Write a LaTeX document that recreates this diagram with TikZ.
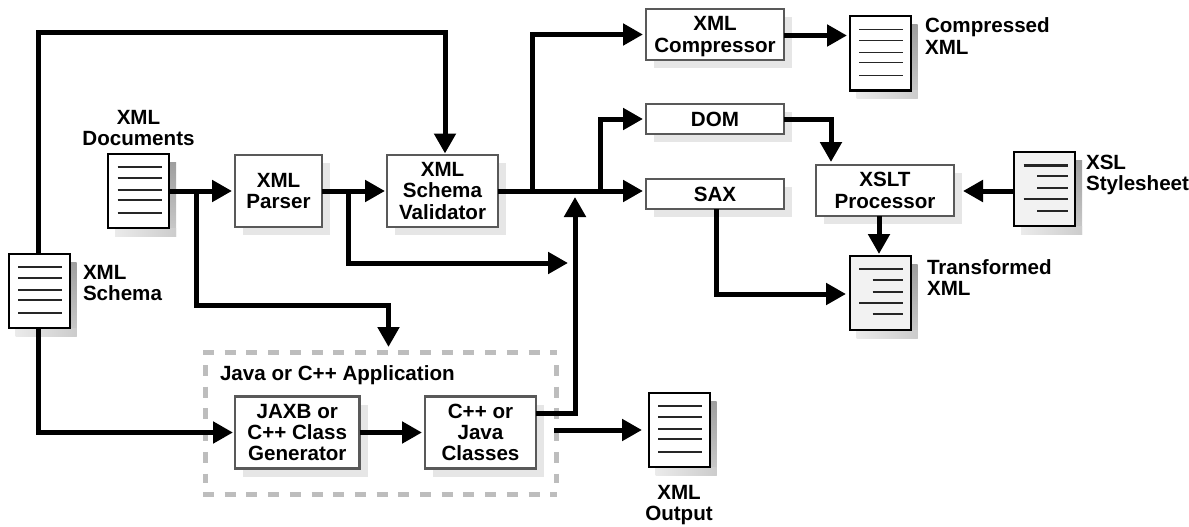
\documentclass[tikz,border=0pt]{standalone}
\usepackage{fontspec}
\setmainfont{Liberation Sans}
\usetikzlibrary{arrows.meta,calc}
\definecolor{boxgray}{HTML}{595959}
\definecolor{shadowlight}{HTML}{E6E6E6}
\definecolor{dashgray}{HTML}{BDBDBD}
\definecolor{pagetint}{HTML}{F2F2F2}
\tikzset{
  every node/.style={font=\bfseries\fontsize{20.6}{21.3}\selectfont,inner sep=0pt,outer sep=0pt},
  flow/.style={line width=5pt,draw=black,-{Triangle[length=20pt,width=21pt]}},
  trunk/.style={line width=5pt,draw=black},
  procbox/.style={draw=boxgray,line width=2.6pt,fill=white,align=center,minimum width=#1,minimum height=72pt},
  lowbox/.style={draw=boxgray,line width=2.6pt,fill=white,align=center,minimum width=#1,minimum height=30pt},
  midbox/.style={draw=boxgray,line width=2.6pt,fill=white,align=center,minimum width=#1,minimum height=51pt},
  docbox/.style={draw=black,line width=2pt,fill=#1,minimum width=61pt,minimum height=74pt},
  docbox/.default=white,
  docrule/.style={draw=black!85,line width=1.2pt},
  label/.style={align=left,anchor=west},
  clabel/.style={align=center},
  framedash/.style={dashgray,line width=5pt,dash pattern=on 11pt off 10.7pt},
}
\newcommand{\nodepth}[1]{\raisebox{0pt}[\height][0pt]{#1}}
\newcommand{\boxshadow}[1]{%
  \fill[shadowlight] ($(#1.north east)+(0,8)$) rectangle ($(#1.south east)+(8,8)$);
  \fill[shadowlight] ($(#1.south west)+(8,0)$) rectangle ($(#1.south east)+(8,8)$);}
\newcommand{\docshadow}[1]{%
  \shade[top color=black!38,bottom color=black!20] ($(#1.north east)+(0,8)$) rectangle ($(#1.south east)+(7,8)$);
  \shade[left color=black!8,right color=black!20] ($(#1.south west)+(7,0)$) rectangle ($(#1.south east)+(7,8)$);}
\newcommand{\ruleat}[4]{\draw[docrule,#4] ($(#1.north west)+(#2,#3)$) -- ($(#1.north west)+(53.5,#3)$);}
\newcommand{\plainrules}[1]{%
  \ruleat{#1}{9.5}{13}{}\ruleat{#1}{9.5}{24}{}\ruleat{#1}{9.5}{36}{}\ruleat{#1}{9.5}{46}{}\ruleat{#1}{9.5}{59}{}}
\newcommand{\codedrules}[1]{%
  \ruleat{#1}{9.5}{13}{}\ruleat{#1}{23}{24}{}\ruleat{#1}{23}{36}{}\ruleat{#1}{9.5}{47}{}\ruleat{#1}{23}{58}{}}
\begin{document}
\begin{tikzpicture}[x=1pt,y=-1pt]
\useasboundingbox (0,0) rectangle (1189,527);

% application frame
\coordinate (ftl) at (203,352);
\coordinate (ftr) at (557,352);
\coordinate (fbl) at (203,494);
\coordinate (fbr) at (557,494);
\coordinate (fla) at (205,365);
\coordinate (flb) at (205,483);
\coordinate (fra) at (556,365);
\coordinate (frb) at (556,483);
\draw[framedash] (ftl) -- (ftr);
\draw[framedash] (fbl) -- (fbr);
\draw[framedash] (fla) -- (flb);
\draw[framedash] (fra) -- (frb);
\node[anchor=west] (applabel) at (220,375) {Java or C++ Application};

% documents
\node[docbox,draw=none,fill=none] (docs) at (138.5,191) {};
\node[docbox,draw=none,fill=none] (schema) at (39,291) {};
\node[docbox,draw=none,fill=none] (compressed) at (880,53.5) {};
\node[docbox,draw=none,fill=none] (xsl) at (1044.5,189) {};
\node[docbox,draw=none,fill=none] (transformed) at (880,293) {};
\node[docbox,draw=none,fill=none] (output) at (679,430) {};
\docshadow{docs}\docshadow{schema}\docshadow{compressed}\docshadow{xsl}\docshadow{transformed}\docshadow{output}
\node[docbox] at (docs) {};
\node[docbox] at (schema) {};
\node[docbox] at (compressed) {};
\node[docbox=pagetint] at (xsl) {};
\node[docbox=pagetint] at (transformed) {};
\node[docbox] at (output) {};
\plainrules{docs}\plainrules{schema}\plainrules{compressed}\plainrules{output}
\codedrules{transformed}
\ruleat{xsl}{9.5}{13}{line width=3pt}\ruleat{xsl}{23}{24}{}\ruleat{xsl}{23}{36}{}\ruleat{xsl}{9.5}{47}{}\ruleat{xsl}{23}{59}{}

% process boxes
\node[procbox=87pt,draw=none,fill=none] (parser) at (278.5,191) {};
\node[procbox=111pt,draw=none,fill=none] (validator) at (442.5,191) {};
\node[midbox=138pt,draw=none,fill=none] (compressor) at (715,34.5) {};
\node[lowbox=138pt,draw=none,fill=none] (dom) at (715,119) {};
\node[lowbox=138pt,draw=none,fill=none] (sax) at (715,194) {};
\node[midbox=138pt,draw=none,fill=none] (xslt) at (885,190.5) {};
\node[procbox=124.5pt,draw=none,fill=none] (jaxb) at (297.25,432.5) {};
\node[procbox=111pt,draw=none,fill=none] (classes) at (480.5,432.5) {};
\boxshadow{parser}\boxshadow{validator}\boxshadow{compressor}\boxshadow{dom}\boxshadow{sax}\boxshadow{xslt}\boxshadow{jaxb}\boxshadow{classes}
\node[procbox=87pt] at (parser) {XML\\Parser};
\node[procbox=111pt] at (validator) {XML\\Schema\\Validator};
\node[midbox=138pt] at (compressor) {XML\\\nodepth{Compressor}};
\node[lowbox=138pt] at (dom) {DOM};
\node[lowbox=138pt] at (sax) {SAX};
\node[midbox=138pt] at (xslt) {XSLT\\Processor};
\node[procbox=124.5pt] at (jaxb) {JAXB or\\C++ Class\\Generator};
\node[procbox=111pt] at (classes) {C++ or\\Java\\Classes};

% labels
\node[clabel] (docslabel) at (138.5,128) {XML\\Documents};
\node[label] (schemalabel) at (83,283) {XML\\Schema};
\node[label] (compressedlabel) at (925,36) {Compressed\\XML};
\node[label] (xsllabel) at (1086,172.5) {XSL\\\nodepth{Stylesheet}};
\node[label] (transformedlabel) at (927,277.5) {Transformed\\XML};
\node[clabel] (outputlabel) at (679,503) {XML\\\nodepth{Output}};

% junctions and free ends
\coordinate (topleft) at (38,33);
\coordinate (topright) at (445,33);
\coordinate (docbranch) at (196,191);
\coordinate (parserbranch) at (348,191);
\coordinate (compbranch) at (532,191);
\coordinate (dombranch) at (600,191);
\coordinate (mergeleft) at (568,263);
\coordinate (mergeup) at (575,197);
\coordinate (frameout) at (554,430);

% connectors
\draw[flow] (schema.north -| topleft) -- (topleft) -- (topright) -- ([yshift=1.5pt]validator.north -| topright);
\draw[flow] (schema.south -| topleft) -- (topleft |- jaxb) -- ([xshift=-2pt]jaxb.west);
\draw[flow] (docs.east) -- ([xshift=-3pt]parser.west);
\draw[flow] (parser.east) -- ([xshift=-2pt]validator.west);
\draw[flow] (docbranch) -- (196,305) -| (388.5,347);
\draw[flow] (parserbranch) |- (mergeleft);
\draw[trunk] (validator.east) -- (dombranch);
\draw[flow] (compbranch) |- ([xshift=-3pt]compressor.west);
\draw[flow] (dombranch) |- ([xshift=-3pt]dom.west);
\draw[flow] (dombranch) -- ([xshift=-3pt]dom.west |- dombranch);
\draw[flow] (compressor.east |- 0,35.5) -- (847,35.5);
\draw[flow] (dom.east) -| (831,162);
\draw[flow] (xsl.west |- 0,191) -- (963,191);
\draw[flow] (879,216) -- (879,254);
\draw[flow] (sax.south -| 716,0) |- (846,294);
\draw[flow] (jaxb.east) -- ([xshift=-3pt]classes.west |- jaxb.east);
\draw[flow] (classes.east |- 0,413) -| (mergeup);
\draw[flow] (frameout) -- (642,430);
\end{tikzpicture}
\end{document}
